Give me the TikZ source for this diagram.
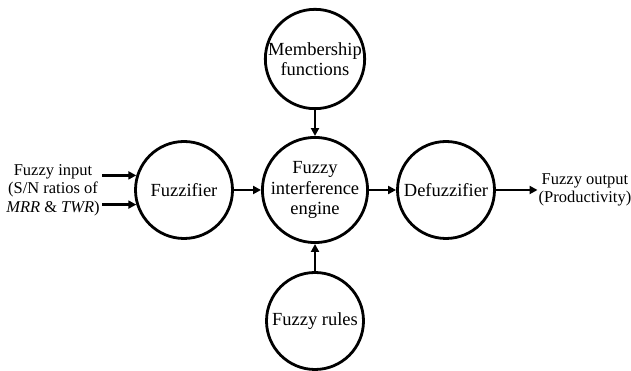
\documentclass[tikz,border=0pt]{standalone}
\usepackage{fontspec}
\setmainfont{Liberation Serif}
\usetikzlibrary{positioning,arrows.meta}
\tikzset{
  block/.style={circle,draw,line width=2.8pt,minimum size=97pt,inner sep=0pt,align=center,font=\fontsize{18.5}{20.5}\selectfont},
  link/.style={line width=2.8pt,-{Triangle[length=8pt,width=8pt]}},
  side/.style={align=center,inner sep=1pt,font=\fontsize{16.5}{18.5}\selectfont}
}
\begin{document}
\begin{tikzpicture}[on grid,node distance=131pt]
    \useasboundingbox (0,0) rectangle (631pt,371pt);
    \node[block] (engine) at (315pt,181pt) {Fuzzy\\interference\\engine};
    \node[block,left=of engine] (fuzz) {Fuzzifier};
    \node[block,right=of engine] (defuzz) {Defuzzifier};
    \node[block,above=of engine] (member) {Membership\\functions};
    \node[block,below=of engine] (rules) {Fuzzy rules};
    \node[side] (input) at (53pt,181pt) {Fuzzy input\\(S/N ratios of\\\textit{MRR} \& \textit{TWR})};
    \node[side] (output) at (585pt,181pt) {Fuzzy output\\(Productivity)};
    \coordinate (in1) at ([xshift=-34pt]fuzz.163);
    \coordinate (in2) at ([xshift=-34pt]fuzz.197);
    \draw[link] (in1) -- (fuzz.163);
    \draw[link] (in2) -- (fuzz.197);
    \draw[link] (fuzz) -- (engine);
    \draw[link] (engine) -- (defuzz);
    \draw[link] (member) -- (engine);
    \draw[link] (rules) -- (engine);
    \draw[link] (defuzz.east) -- (output.west);
\end{tikzpicture}
\end{document}
